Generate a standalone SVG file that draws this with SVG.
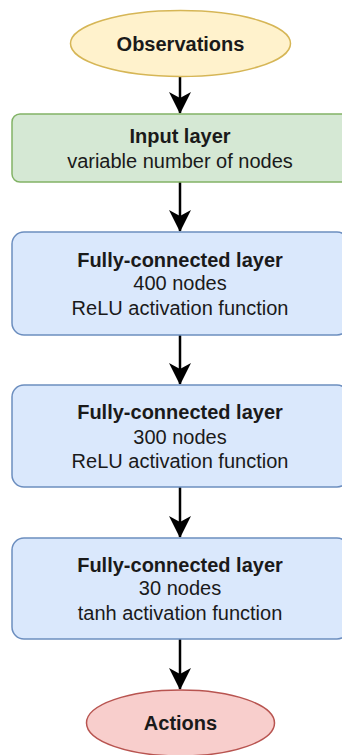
<svg xmlns="http://www.w3.org/2000/svg" width="342" height="755" viewBox="0 0 342 755">
<defs>
<marker id="arr" markerUnits="userSpaceOnUse" markerWidth="22" markerHeight="22" viewBox="0 0 22 22" refX="21" refY="11" orient="auto">
<path d="M0,0 L22,11 L0,22 L6,11 Z" fill="#000"/>
</marker>
<style>
text{font-family:"Liberation Sans",Arial,sans-serif;font-size:20px;fill:#1a1a1a;text-anchor:middle}
.b{font-weight:bold}
.obs{fill:#fff2cc;stroke:#d6b656;stroke-width:1.5}
.inp{fill:#d5e8d4;stroke:#82b366;stroke-width:1.5}
.fc{fill:#dae8fc;stroke:#6c8ebf;stroke-width:1.5}
.act{fill:#f8cecc;stroke:#b85450;stroke-width:1.5}
.edge{stroke:#000;stroke-width:2.5;fill:none;marker-end:url(#arr)}
</style>
</defs>
<rect width="342" height="755" fill="#fff"/>
<g id="connectors">
<line class="edge" x1="180" y1="77" x2="180" y2="113"/>
<line class="edge" x1="180" y1="182" x2="180" y2="231"/>
<line class="edge" x1="180" y1="335" x2="180" y2="384"/>
<line class="edge" x1="180" y1="487" x2="180" y2="537"/>
<line class="edge" x1="180" y1="639" x2="180" y2="689"/>
</g>
<g id="observations">
<ellipse class="obs" cx="180.5" cy="43.5" rx="110" ry="33"/>
<text class="b" x="180.5" y="50.5">Observations</text>
</g>
<g id="input">
<rect class="inp" x="12" y="114" width="337" height="68" rx="8"/>
<text class="b" x="180" y="143">Input layer</text>
<text x="180" y="168">variable number of nodes</text>
</g>
<g id="fc1">
<rect class="fc" x="12" y="232" width="337" height="103" rx="12"/>
<text class="b" x="180" y="267">Fully-connected layer</text>
<text x="180" y="290">400 nodes</text>
<text x="180" y="315">ReLU activation function</text>
</g>
<g id="fc2">
<rect class="fc" x="12" y="385" width="337" height="102" rx="12"/>
<text class="b" x="180" y="419">Fully-connected layer</text>
<text x="180" y="444">300 nodes</text>
<text x="180" y="468">ReLU activation function</text>
</g>
<g id="fc3">
<rect class="fc" x="12" y="538" width="337" height="101" rx="12"/>
<text class="b" x="180" y="572">Fully-connected layer</text>
<text x="180" y="595">30 nodes</text>
<text x="180" y="620">tanh activation function</text>
</g>
<g id="actions">
<ellipse class="act" cx="180.5" cy="723" rx="94" ry="33"/>
<text class="b" x="180.5" y="730">Actions</text>
</g>
</svg>
